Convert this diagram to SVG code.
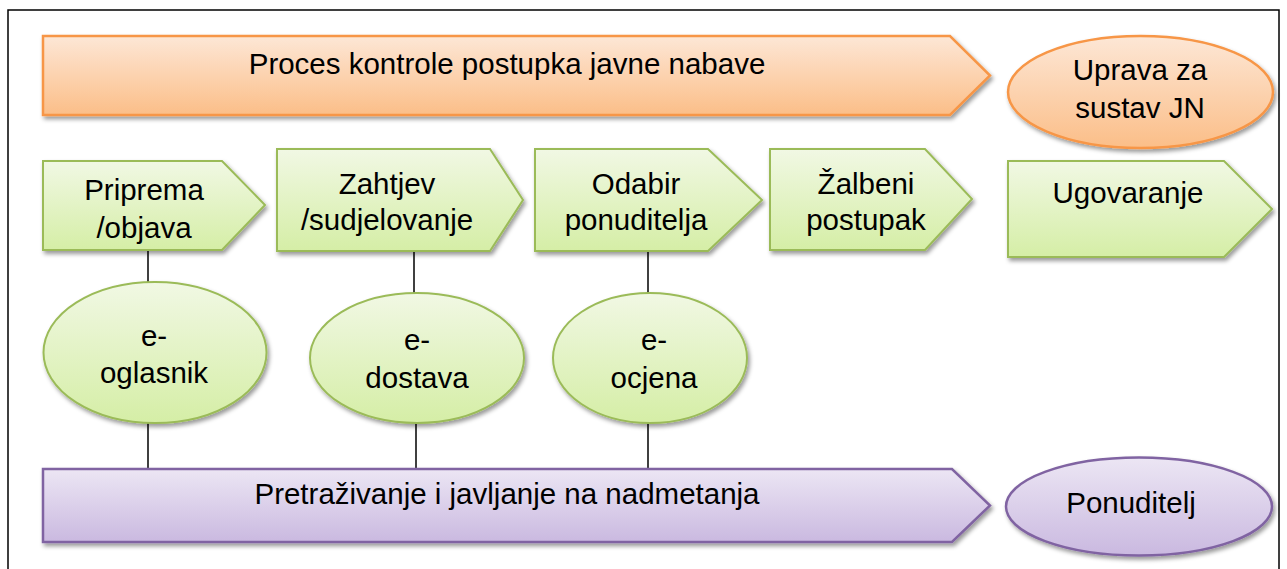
<svg xmlns="http://www.w3.org/2000/svg" width="1287" height="569" viewBox="0 0 1287 569">
<style>
  text { font-family: "Liberation Sans", Arial, sans-serif; font-size: 29.5px; fill: #000; text-anchor: middle; }
  .or { fill: url(#gOr); stroke: #F79646; stroke-width: 2.5; filter: url(#sh); }
  .gr { fill: url(#gGr); stroke: #9BBB59; stroke-width: 2; filter: url(#sh); }
  .pu { fill: url(#gPu); stroke: #8064A2; stroke-width: 2.5; filter: url(#sh); }
  .ln { stroke: #000; stroke-width: 1.5; fill: none; }
</style>
<defs>
  <linearGradient id="gOr" x1="0" y1="0" x2="0" y2="1">
    <stop offset="0" stop-color="#FDE7D6"/>
    <stop offset="1" stop-color="#FBBE88"/>
  </linearGradient>
  <linearGradient id="gGr" x1="0" y1="0" x2="0" y2="1">
    <stop offset="0" stop-color="#F1F8E4"/>
    <stop offset="1" stop-color="#D5EEA6"/>
  </linearGradient>
  <linearGradient id="gPu" x1="0" y1="0" x2="0" y2="1">
    <stop offset="0" stop-color="#ECE6F4"/>
    <stop offset="1" stop-color="#CAB9E0"/>
  </linearGradient>
  <filter id="sh" x="-10%" y="-20%" width="125%" height="150%">
    <feDropShadow dx="2" dy="3" stdDeviation="2" flood-color="#000" flood-opacity="0.4"/>
  </filter>
  <clipPath id="c1"><rect x="40" y="155" width="230" height="92"/></clipPath>
</defs>
<rect x="0" y="0" width="1287" height="569" fill="#fff"/>
<rect id="frame" x="8" y="10" width="1271" height="580" fill="none" stroke="#000" stroke-width="1.5"/>

<g id="connectors">
  <line class="ln" x1="148" y1="250" x2="148" y2="282"/>
  <line class="ln" x1="148" y1="423" x2="148" y2="469"/>
  <line class="ln" x1="414" y1="251" x2="414" y2="293"/>
  <line class="ln" x1="416" y1="423" x2="416" y2="469"/>
  <line class="ln" x1="648" y1="251" x2="648" y2="293"/>
  <line class="ln" x1="648" y1="423" x2="648" y2="469"/>
</g>

<g id="proces">
  <polygon class="or" points="43,36 950,36 990,75.5 950,115 43,115"/>
  <text x="507" y="74">Proces kontrole postupka javne nabave</text>
</g>
<g id="uprava">
  <ellipse class="or" cx="1140.5" cy="92" rx="132.5" ry="56"/>
  <text x="1140" y="80">Uprava za</text>
  <text x="1140" y="118">sustav JN</text>
</g>

<g id="priprema">
  <polygon class="gr" points="43,161 222,161 265,205 222,250 43,250"/>
  <g clip-path="url(#c1)">
    <text x="144" y="200">Priprema</text>
    <text x="144" y="238">/objava</text>
  </g>
</g>
<g id="zahtjev">
  <polygon class="gr" points="277,149 490,149 523,200 490,251 277,251"/>
  <text x="387" y="194">Zahtjev</text>
  <text x="387" y="230">/sudjelovanje</text>
</g>
<g id="odabir">
  <polygon class="gr" points="535,149 708,149 762,200 708,251 535,251"/>
  <text x="636" y="194">Odabir</text>
  <text x="636" y="230">ponuditelja</text>
</g>
<g id="zalbeni">
  <polygon class="gr" points="770,149 925,149 972,199 925,250 770,250"/>
  <text x="866" y="194">Žalbeni</text>
  <text x="866" y="230">postupak</text>
</g>
<g id="ugovaranje">
  <polygon class="gr" points="1008,161 1224,161 1272,209 1224,257 1008,257"/>
  <text x="1128" y="203">Ugovaranje</text>
</g>

<g id="eoglasnik">
  <ellipse class="gr" cx="155" cy="352.5" rx="111.5" ry="70.5"/>
  <text x="154" y="346">e-</text>
  <text x="154" y="383">oglasnik</text>
</g>
<g id="edostava">
  <ellipse class="gr" cx="417" cy="358" rx="107" ry="65"/>
  <text x="417" y="350">e-</text>
  <text x="417" y="388">dostava</text>
</g>
<g id="eocjena">
  <ellipse class="gr" cx="650" cy="358" rx="97" ry="65"/>
  <text x="654" y="350">e-</text>
  <text x="654" y="388">ocjena</text>
</g>

<g id="pretrazivanje">
  <polygon class="pu" points="43,469 952,469 990,505.5 952,542 43,542"/>
  <text x="507" y="504">Pretraživanje i javljanje na nadmetanja</text>
</g>
<g id="ponuditelj">
  <ellipse class="pu" cx="1139" cy="506.5" rx="133" ry="49"/>
  <text x="1131" y="513">Ponuditelj</text>
</g>
</svg>
